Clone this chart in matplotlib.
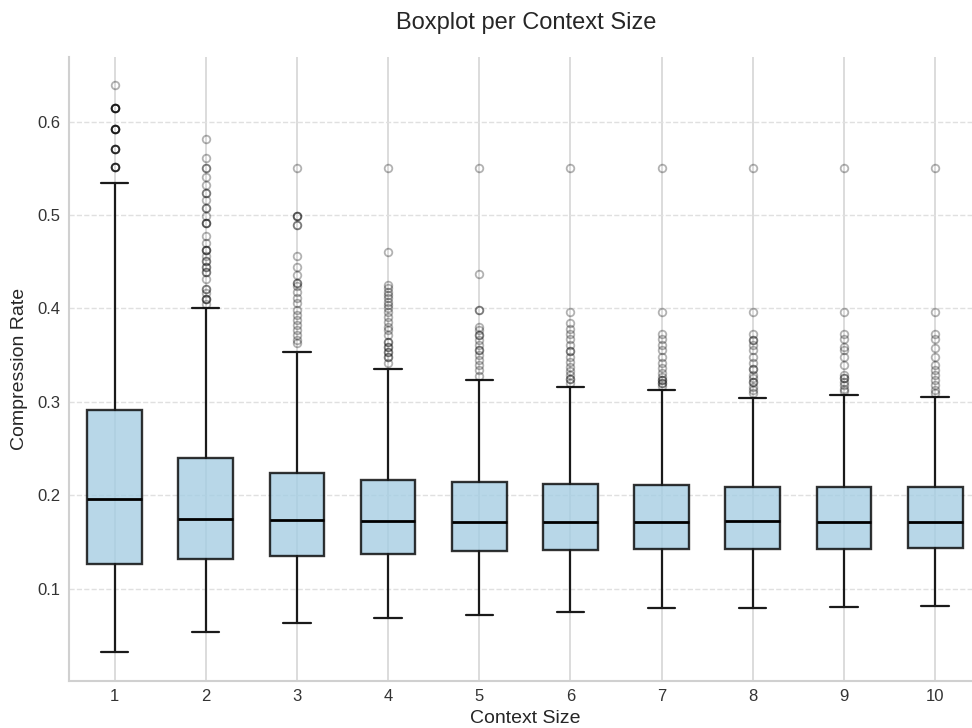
import matplotlib
matplotlib.use("Agg")
import matplotlib.pyplot as plt

plt.style.use("seaborn-v0_8-whitegrid")
plt.rcParams["font.family"] = ["Liberation Sans", "DejaVu Sans"]

# box statistics, one entry per context size
sizes = [1, 2, 3, 4, 5, 6, 7, 8, 9, 10]
whislo = [0.0317, 0.0532, 0.0628, 0.0682, 0.0721, 0.0746, 0.0789, 0.0789, 0.0803, 0.0817]
q1 = [0.1262, 0.1319, 0.1351, 0.1370, 0.1398, 0.1412, 0.1423, 0.1423, 0.1423, 0.1437]
med = [0.1964, 0.1746, 0.1731, 0.1720, 0.1709, 0.1709, 0.1709, 0.1720, 0.1709, 0.1709]
q3 = [0.2909, 0.2397, 0.2232, 0.2165, 0.2136, 0.2122, 0.2111, 0.2082, 0.2082, 0.2082]
whishi = [0.5337, 0.4002, 0.3529, 0.3353, 0.3231, 0.3159, 0.3124, 0.3037, 0.3070, 0.3050]

# outliers (repeated values = overlapping points, drawn darker)
fliers_1 = [0.639] + [0.614] * 6 + [0.592] * 6 + [0.571] * 5 + [0.551] * 5
fliers_2 = [0.5817, 0.5613, 0.5506, 0.5506, 0.5409, 0.5326, 0.5237, 0.5237, 0.5155,
            0.5072, 0.5072, 0.4993, 0.4911, 0.4911, 0.4911, 0.4779, 0.4700, 0.4628,
            0.4628, 0.4628, 0.4564, 0.4510, 0.4510, 0.4446, 0.4446, 0.4384, 0.4384,
            0.4317, 0.4206, 0.4206, 0.4163, 0.4099, 0.4099, 0.4099, 0.4051]
fliers_3 = [0.5506, 0.4993, 0.4993, 0.4993, 0.4897, 0.4897, 0.4560, 0.4442, 0.4356,
            0.4270, 0.4270, 0.4234, 0.4180, 0.4109, 0.4055, 0.3983, 0.3930, 0.3876,
            0.3822, 0.3768, 0.3715, 0.3661, 0.3626]
fliers_4 = [0.5506, 0.4599, 0.4252, 0.4217, 0.4180, 0.4145, 0.4109, 0.4073, 0.4037,
            0.4002, 0.3965, 0.3911, 0.3858, 0.3804, 0.3768, 0.3715, 0.3643, 0.3643,
            0.3589, 0.3589, 0.3536, 0.3536, 0.3482, 0.3482, 0.3411]
fliers_5 = [0.5506, 0.4370, 0.3983, 0.3983, 0.3804, 0.3768, 0.3715, 0.3715, 0.3661,
            0.3607, 0.3554, 0.3554, 0.3500, 0.3446, 0.3393, 0.3339, 0.3274]
fliers_6 = [0.5506, 0.3965, 0.3841, 0.3776, 0.3726, 0.3669, 0.3608, 0.3546, 0.3546,
            0.3482, 0.3428, 0.3374, 0.3331, 0.3285, 0.3239, 0.3239, 0.3196]
fliers_7 = [0.5506, 0.3965, 0.3726, 0.3669, 0.3608, 0.3554, 0.3482, 0.3411, 0.3357,
            0.3303, 0.3267, 0.3231, 0.3231, 0.3196, 0.3196, 0.3167]
fliers_8 = [0.5506, 0.3965, 0.3726, 0.3661, 0.3661, 0.3607, 0.3554, 0.3482, 0.3411,
            0.3346, 0.3346, 0.3285, 0.3250, 0.3213, 0.3213, 0.3159, 0.3125, 0.3090]
fliers_9 = [0.5506, 0.3965, 0.3726, 0.3669, 0.3589, 0.3554, 0.3475, 0.3393, 0.3285,
            0.3250, 0.3250, 0.3213, 0.3178, 0.3140, 0.3110]
fliers_10 = [0.5506, 0.3965, 0.3726, 0.3669, 0.3572, 0.3482, 0.3393, 0.3339, 0.3285,
             0.3231, 0.3178, 0.3125, 0.3090]
fliers = [fliers_1, fliers_2, fliers_3, fliers_4, fliers_5,
          fliers_6, fliers_7, fliers_8, fliers_9, fliers_10]

stats = []
for i in range(len(sizes)):
    stats.append({"whislo": whislo[i], "q1": q1[i], "med": med[i], "q3": q3[i],
                  "whishi": whishi[i], "fliers": fliers[i], "label": str(sizes[i])})

fig = plt.figure(figsize=(9.72, 7.28), dpi=100)
ax = fig.add_axes([0.071, 0.065, 0.938, 0.857])

ax.bxp(stats, positions=sizes, widths=0.6, patch_artist=True,
       boxprops=dict(facecolor="#a6cee3", edgecolor="black", alpha=0.8, linewidth=1.7),
       medianprops=dict(color="black", linewidth=2),
       whiskerprops=dict(color="#1a1a1a", linewidth=1.6),
       capprops=dict(color="#1a1a1a", linewidth=1.6),
       flierprops=dict(marker="o", markerfacecolor="none", markeredgecolor="black",
                       markersize=5.5, alpha=0.3, markeredgewidth=1.3))

ax.set_xlim(0.5, 10.5)
ax.xaxis.grid(True, color="#d6d6d6", linewidth=1.2, linestyle="-")
ax.yaxis.grid(True, color="#e0e0e0", linewidth=1.0, linestyle="--")
ax.set_axisbelow(True)
for s in ["top", "right"]:
    ax.spines[s].set_visible(False)
for s in ["left", "bottom"]:
    ax.spines[s].set_color("#d0d0d0")
    ax.spines[s].set_linewidth(1.5)

ax.tick_params(axis="both", labelsize=12, colors="#333333", length=0, pad=6)
ax.set_yticks([0.1, 0.2, 0.3, 0.4, 0.5, 0.6])
ax.set_xlabel("Context Size", fontsize=14, color="#262626", labelpad=4)
ax.set_ylabel("Compression Rate", fontsize=14, color="#262626", labelpad=7)
fig.text(0.541, 0.968, "Boxplot per Context Size", fontsize=17, color="#262626",
         ha="center", va="center")

fig.savefig("out.png", dpi=100)
